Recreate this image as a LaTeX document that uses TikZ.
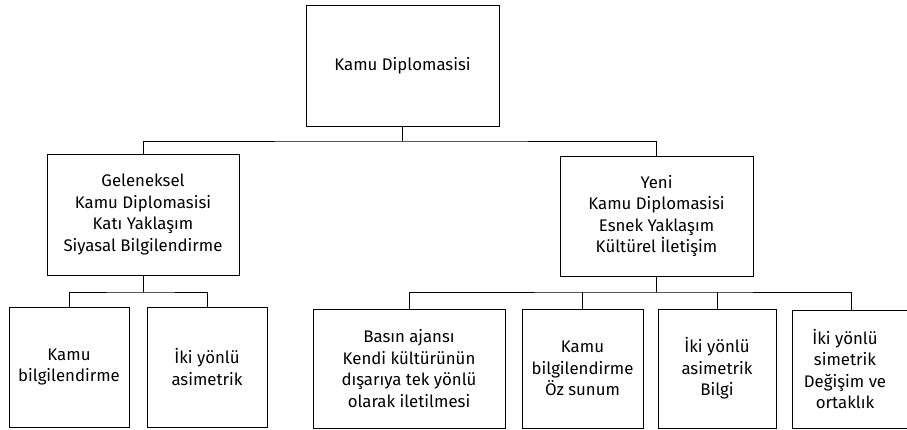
\documentclass[tikz,border=0pt]{standalone}
\usepackage{fontspec}
\setmainfont{Fira Sans}
\begin{document}
\begin{tikzpicture}[x=1pt,y=-1pt,
  box/.style={draw=black, line width=0.9pt, rectangle, align=center, inner sep=2pt,
    font=\fontsize{16.8}{21.5}\selectfont},
  link/.style={draw=black, line width=0.9pt}]
\path[use as bounding box, clip] (0,0) rectangle (907,430);
\fill[white] (0,0) rectangle (907,430);

\node[box, minimum width=193pt, minimum height=121pt] (top) at (402.5,65.5) {Kamu Diplomasisi};
\node[box, minimum width=192pt, minimum height=121pt] (gel) at (143,214.5)
  {Geleneksel\\Kamu Diplomasisi\\Katı Yaklaşım\\Siyasal Bilgilendirme};
\node[box, minimum width=193pt, minimum height=120pt] (yeni) at (656.5,216)
  {Yeni\\Kamu Diplomasisi\\Esnek Yaklaşım\\Kültürel İletişim};

\node[box, minimum width=120pt, minimum height=120pt] (kb) at (69,367) {Kamu\\bilgilendirme};
\node[box, minimum width=120pt, minimum height=120pt] (ia) at (207,367) {İki yönlü\\asimetrik};
\node[box, minimum width=192pt, minimum height=119pt] (basin) at (409,368.5)
  {Basın ajansı\\Kendi kültürünün\\dışarıya tek yönlü\\olarak iletilmesi};
\node[box, minimum width=121pt, minimum height=119pt] (kbo) at (582.5,368.5)
  {Kamu\\bilgilendirme\\Öz sunum};
\node[box, minimum width=118pt, minimum height=119pt] (iab) at (717,368.5)
  {İki yönlü\\asimetrik\\Bilgi};
\node[box, minimum width=118pt, minimum height=118pt] (iks) at (851,369)
  {\hspace*{-12pt}\parbox{100pt}{\centering İki yönlü\\simetrik\\Değişim ve\\ortaklık}};

\coordinate (b1) at (402.5,141);
\coordinate (b2) at (143,292);
\coordinate (b3) at (656.5,292);

\draw[link] (top.south) -- (b1);
\draw[link] (gel.north) |- (b1) -| (yeni.north);
\draw[link] (gel.south) -- (b2);
\draw[link] (kb.north) |- (b2) -| (ia.north);
\draw[link] (yeni.south) -- (b3);
\draw[link] (basin.north) |- (b3) -| (iks.north);
\draw[link] (kbo.north) -- (kbo.north |- b3);
\draw[link] (iab.north) -- (iab.north |- b3);
\end{tikzpicture}
\end{document}
